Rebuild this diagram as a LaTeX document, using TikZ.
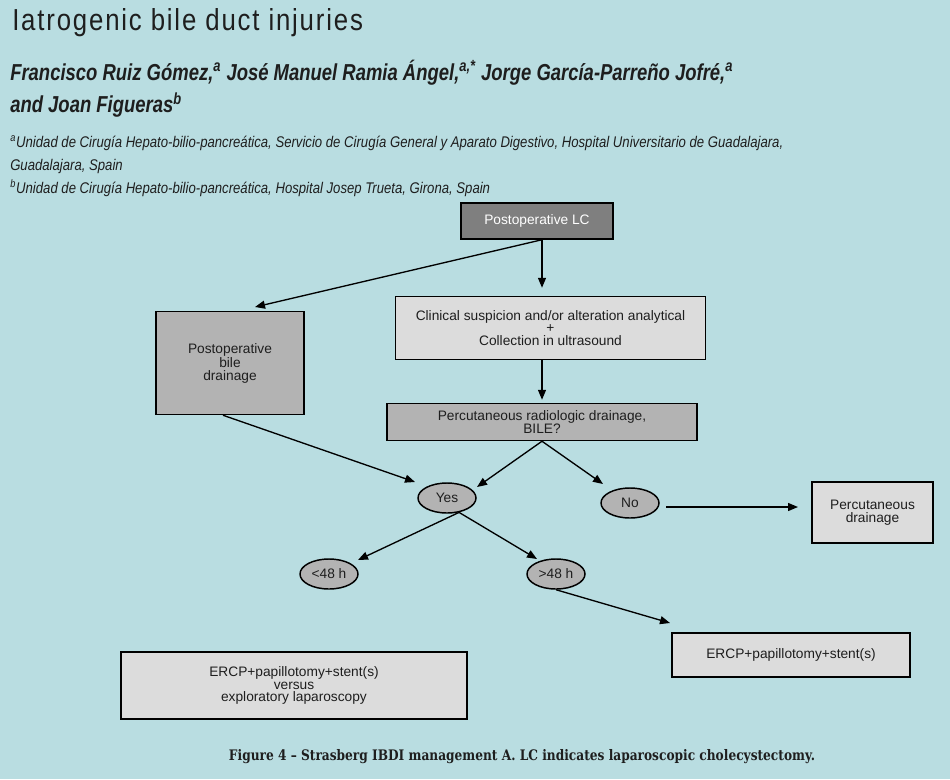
\documentclass[tikz,border=0pt]{standalone}
\usepackage{fontspec}
\setmainfont{Liberation Sans}
\newfontfamily\titlefont[FakeStretch=0.85,LetterSpace=6]{Liberation Sans}
\newfontfamily\authfont[FakeStretch=0.8]{Liberation Sans}
\newfontfamily\afffont[FakeStretch=0.85]{Liberation Sans}
\newfontfamily\capfont[FakeStretch=0.84]{DejaVu Serif}
\usetikzlibrary{arrows.meta,shapes.geometric,calc}
\definecolor{bg}{HTML}{B9DDE1}
\definecolor{darkfill}{HTML}{7F7F7F}
\definecolor{midfill}{HTML}{B3B3B3}
\definecolor{lightfill}{HTML}{DCDCDC}
\definecolor{txt}{HTML}{1E1E1E}
\newcommand\dfont{\fontsize{10.3pt}{9.6pt}\selectfont}
\begin{document}
\begin{tikzpicture}[x=0.75pt,y=-0.75pt,
  box/.style={draw=black,line width=1.1pt,inner sep=0pt,align=center,font=\dfont,text=txt},
  oval/.style={ellipse,draw=black,line width=1.1pt,fill=midfill,inner sep=0pt,
    minimum width=43.5pt,minimum height=22.5pt,font=\dfont,text=txt},
  arr/.style={-{Triangle[length=7.5pt,width=6pt]},line width=1pt,draw=black},
  hdr/.style={inner sep=0pt,text=txt}]
\fill[bg] (0,0) rectangle (950,779);
\useasboundingbox (0,0) rectangle (950,779);

% header
\node[hdr,anchor=base west] (title) at (12,30)
  {\resizebox{263pt}{16.5pt}{\titlefont\fontsize{20pt}{20pt}\selectfont Iatrogenic bile duct injuries}};
\node[hdr,anchor=base west] (auth) at (10,80)
  {\resizebox{542.25pt}{!}{\authfont\bfseries\itshape\fontsize{14.6pt}{20.5pt}\selectfont
   \begin{tabular}[t]{@{}l@{}}
   Francisco Ruiz Gómez,\textsuperscript{a} José Manuel Ramia Ángel,\textsuperscript{a,*} Jorge García-Parreño Jofré,\textsuperscript{a}\\
   and Joan Figueras\textsuperscript{b}
   \end{tabular}}};
\node[hdr,anchor=base west] (aff) at (10,147)
  {\resizebox{579.75pt}{!}{\afffont\itshape\fontsize{9.6pt}{14.3pt}\selectfont
   \begin{tabular}[t]{@{}l@{}}
   \textsuperscript{a}Unidad de Cirugía Hepato-bilio-pancreática, Servicio de Cirugía General y Aparato Digestivo, Hospital Universitario de Guadalajara,\\
   Guadalajara, Spain\\
   \textsuperscript{b}Unidad de Cirugía Hepato-bilio-pancreática, Hospital Josep Trueta, Girona, Spain
   \end{tabular}}};

% diagram nodes
\node[box,fill=darkfill,text=white,minimum width=114pt,minimum height=27pt] (lc) at (537,221) {Postoperative LC};
\node[box,fill=lightfill,minimum width=232.5pt,minimum height=47.25pt] (clin) at (550.5,328)
  {Clinical suspicion and/or alteration analytical\\+\\Collection in ultrasound};
\node[box,fill=midfill,minimum width=111pt,minimum height=77.25pt] (bile) at (230,363)
  {Postoperative\\bile\\drainage};
\node[box,fill=midfill,minimum width=232.5pt,minimum height=27.75pt] (perc) at (542,422)
  {Percutaneous radiologic drainage,\\BILE?};
\node[oval] (yes) at (447,498) {Yes};
\node[oval] (no) at (630,503) {No};
\node[oval] (lt) at (329,574) {<48 h};
\node[oval] (gt) at (556,574) {>48 h};
\node[box,fill=lightfill,minimum width=90.75pt,minimum height=45.75pt] (pd) at (872.5,512.5)
  {Percutaneous\\drainage};
\node[box,fill=lightfill,minimum width=178.5pt,minimum height=33pt] (ercp) at (791,655)
  {ERCP+papillotomy+stent(s)};
\node[box,fill=lightfill,minimum width=259.5pt,minimum height=50.25pt] (ercpv) at (294,685.5)
  {ERCP+papillotomy+stent(s)\\versus\\exploratory laparoscopy};

% free arrow ends
\coordinate (t1) at (255,307);
\coordinate (t2) at (415,482);
\coordinate (t3) at (477,487);
\coordinate (t4) at (603,484);
\coordinate (t5) at (358,560);
\coordinate (t6) at (537,559);
\coordinate (t7) at (670,623);
\coordinate (n1) at (666,507);
\coordinate (n2) at (798,507);

% connectors
\draw[arr] (lc.south -| perc.south) -- (t1);
\draw[arr,shorten >=6pt] (lc.south -| perc.south) -- (clin.north -| perc.south);
\draw[arr,shorten >=2.25pt] (clin.south -| perc.south) -- (perc.north);
\draw[arr] ($(bile.south)+(-7,0)$) -- (t2);
\draw[arr] (perc.south) -- (t3);
\draw[arr] (perc.south) -- (t4);
\draw[arr] (n1) -- (n2);
\draw[arr] (yes.-50) -- (t5);
\draw[arr] (yes.-50) -- (t6);
\draw[arr] (gt.south) -- (t7);

% caption
\node[hdr,anchor=base] (cap) at (522,760)
  {\resizebox{439.5pt}{!}{\capfont\bfseries\fontsize{9.5pt}{10pt}\selectfont Figure 4 – Strasberg IBDI management A. LC indicates laparoscopic cholecystectomy.}};
\end{tikzpicture}
\end{document}
